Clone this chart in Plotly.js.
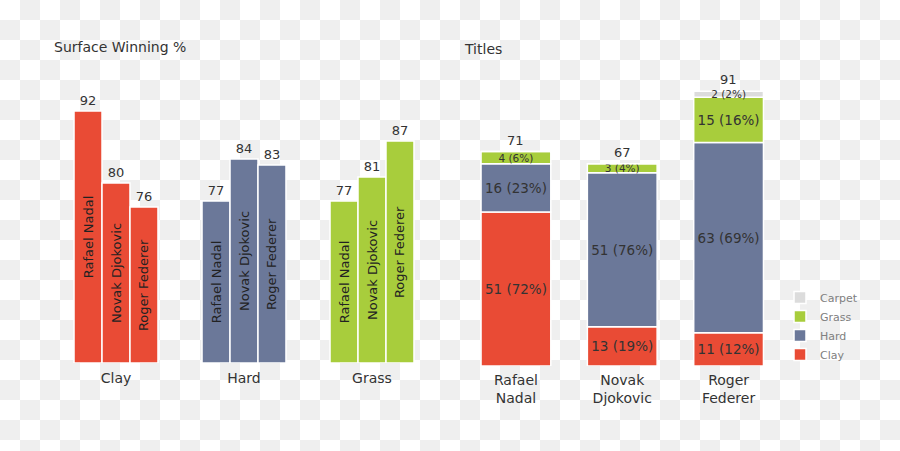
<!DOCTYPE html>
<html><head><meta charset="utf-8">
<script src="https://cdn.plot.ly/plotly-3.0.1.min.js"></script>
<style>
html,body{margin:0;padding:0;}
body{width:900px;height:451px;overflow:hidden;background-color:#fff;background-image:repeating-conic-gradient(#efefef 0 25%, #fff 0 50%);background-size:40px 40px;}
#chart{width:900px;height:451px;}
</style></head><body><div id="chart"></div>
<script>
// ---- data ----
const surfaces = ['Clay', 'Hard', 'Grass'];
const players = ['Rafael Nadal', 'Novak Djokovic', 'Roger Federer'];
const playerTicks = ['Rafael<br>Nadal', 'Novak<br>Djokovic', 'Roger<br>Federer'];
const winNadal = [92, 77, 77];
const winDjokovic = [80, 84, 81];
const winFederer = [76, 83, 87];
const titleSurfaces = ['Clay', 'Hard', 'Grass', 'Carpet'];
const titlesClay = [51, 13, 11];
const titlesHard = [16, 51, 63];
const titlesGrass = [4, 3, 15];
const titlesCarpet = [0, 0, 2];
const pctClay = [72, 19, 12];
const pctHard = [23, 76, 69];
const pctGrass = [6, 4, 16];
const pctCarpet = [0, 0, 2];

// ---- styles ----
const COLORS = {Clay: '#E94B35', Hard: '#6B7899', Grass: '#A8CD3C', Carpet: '#DCDCDC'};
const FONT = 'DejaVu Sans, sans-serif';
const TXT = '#333333';
const WIN_BASE = 50;

const traces = [];
const winSeries = [winNadal, winDjokovic, winFederer];
winSeries.forEach((vals, i) => {
  traces.push({
    type: 'bar', xaxis: 'x', yaxis: 'y', x: surfaces,
    base: WIN_BASE, y: vals.map(v => v - WIN_BASE),
    offsetgroup: 'p' + i, showlegend: false, hoverinfo: 'skip',
    marker: {color: surfaces.map(s => COLORS[s]), line: {color: '#ffffff', width: 1.5}},
    text: surfaces.map(() => players[i]), textposition: 'inside', textangle: -90,
    insidetextanchor: 'middle', constraintext: 'none',
    textfont: {family: FONT, size: 13, color: '#222222'}
  });
  traces.push({
    type: 'bar', xaxis: 'x', yaxis: 'y', x: surfaces,
    base: WIN_BASE, y: vals.map(v => v - WIN_BASE),
    offsetgroup: 'p' + i, showlegend: false, hoverinfo: 'skip',
    marker: {color: 'rgba(0,0,0,0)', line: {width: 0}},
    text: vals.map(String), textposition: 'outside', textangle: 0, cliponaxis: false,
    textfont: {family: FONT, size: 13, color: TXT}
  });
});

const titleSeries = [titlesClay, titlesHard, titlesGrass, titlesCarpet];
const pctSeries = [pctClay, pctHard, pctGrass, pctCarpet];
const cum = [0, 0, 0];
titleSeries.forEach((vals, k) => {
  const base = cum.slice();
  traces.push({
    type: 'bar', xaxis: 'x2', yaxis: 'y2', x: playerTicks, y: vals, base: base,
    name: titleSurfaces[k], offsetgroup: 'titles', hoverinfo: 'skip',
    marker: {color: COLORS[titleSurfaces[k]], line: {color: '#ffffff', width: 1.5}},
    text: vals.map((v, j) => v > 0 ? v + ' (' + pctSeries[k][j] + '%)' : ''),
    textposition: 'inside', insidetextanchor: 'middle', constraintext: 'none', textangle: 0,
    cliponaxis: false,
    textfont: {family: FONT, size: vals.map(v => v < 5 ? 10.5 : 13.5), color: TXT}
  });
  vals.forEach((v, j) => { cum[j] += v; });
});

const annotations = [
  {text: 'Surface Winning %', xref: 'paper', yref: 'paper', x: 52 / 900, y: 1 - 47 / 451,
   xanchor: 'left', yanchor: 'middle', showarrow: false, font: {family: FONT, size: 14, color: TXT}},
  {text: 'Titles', xref: 'paper', yref: 'paper', x: 462 / 900, y: 1 - 49 / 451,
   xanchor: 'left', yanchor: 'middle', showarrow: false, font: {family: FONT, size: 14, color: TXT}}
];
playerTicks.forEach((p, j) => {
  annotations.push({text: String(cum[j]), xref: 'x2', yref: 'y2', x: p, y: cum[j],
    xanchor: 'center', yanchor: 'bottom', yshift: 2, showarrow: false,
    font: {family: FONT, size: 13, color: TXT}});
});

const layout = {
  width: 900, height: 451, autosize: false,
  margin: {l: 0, r: 0, t: 0, b: 0, pad: 0},
  paper_bgcolor: 'rgba(0,0,0,0)', plot_bgcolor: 'rgba(0,0,0,0)',
  barmode: 'group', bargap: 0.344, bargroupgap: 0,
  font: {family: FONT, color: TXT},
  xaxis: {domain: [52 / 900, 436 / 900], type: 'category', showgrid: false, zeroline: false,
    showline: false, ticks: '', ticklabelstandoff: 5, tickfont: {family: FONT, size: 14, color: TXT}, fixedrange: true},
  yaxis: {domain: [(451 - 363) / 451, (451 - 63) / 451], range: [50, 100], visible: false, fixedrange: true},
  xaxis2: {domain: [462.75 / 900, 781.75 / 900], anchor: 'y2', type: 'category', showgrid: false,
    zeroline: false, showline: false, ticks: '', ticklabelstandoff: 4, tickfont: {family: FONT, size: 14, color: TXT}, fixedrange: true},
  yaxis2: {domain: [(451 - 366) / 451, (451 - 64) / 451], range: [0, 100], visible: false, anchor: 'x2', fixedrange: true},
  showlegend: true,
  legend: {x: 780 / 900, xanchor: 'left', y: 1 - 326 / 451, yanchor: 'middle', traceorder: 'reversed',
    bgcolor: 'rgba(0,0,0,0)', font: {family: FONT, size: 11, color: '#808080'}},
  annotations: annotations
};

Plotly.newPlot('chart', traces, layout, {staticPlot: true, displayModeBar: false});
</script></body></html>
